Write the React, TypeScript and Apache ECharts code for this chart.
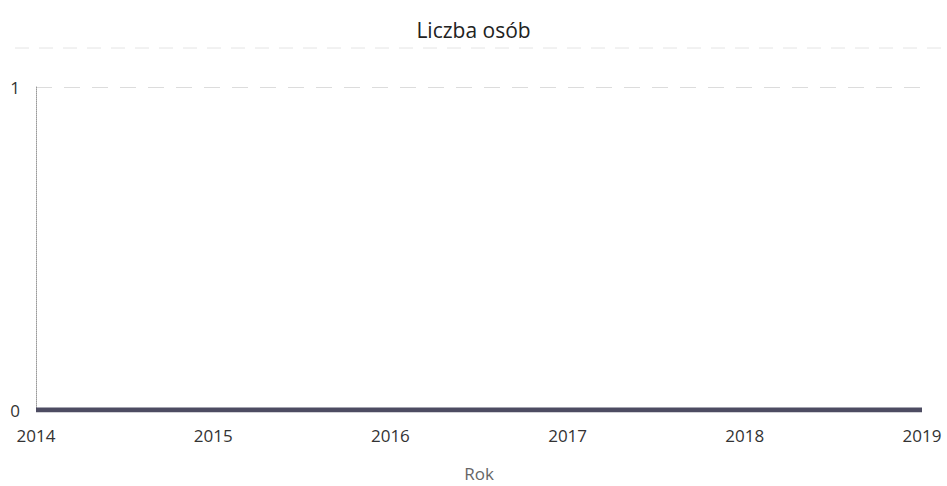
import React, { useEffect, useRef } from "react";
import * as echarts from "echarts";

const years = ["2014", "2015", "2016", "2017", "2018", "2019"];
const personCounts = [0, 0, 0, 0, 0, 0];
const titleText = "Liczba osób";
const xAxisName = "Rok";

export default function App() {
  const ref = useRef<HTMLDivElement>(null);
  useEffect(() => {
    if (!ref.current) return;
    const chart = echarts.init(ref.current, undefined, { renderer: "svg" });
    chart.setOption({
      animation: false,
      backgroundColor: "#ffffff",
      textStyle: { fontFamily: "Open Sans" },
      title: {
        text: titleText,
        left: "center",
        top: 14,
        textStyle: { fontFamily: "Open Sans", fontSize: 21, fontWeight: "normal", color: "#222" },
      },
      graphic: [
        {
          type: "line",
          shape: { x1: 15, y1: 48, x2: 945, y2: 48 },
          style: { stroke: "#e4e4e4", lineWidth: 1, lineDash: [14, 10] },
          silent: true,
        },
      ],
      grid: {
        left: 36,
        right: 25,
        top: 87,
        bottom: 76,
        containLabel: false,
        outerBoundsMode: "none",
      },
      xAxis: {
        type: "category",
        data: years,
        boundaryGap: false,
        name: xAxisName,
        nameLocation: "middle",
        nameGap: 55,
        nameTextStyle: { fontFamily: "Open Sans", fontSize: 17, color: "#666" },
        axisLine: { show: false },
        axisTick: { show: false },
        axisLabel: { fontFamily: "Open Sans", fontSize: 17, color: "#333", margin: 17 },
        splitLine: { show: false },
      },
      yAxis: {
        type: "value",
        min: 0,
        max: 1,
        interval: 1,
        axisLine: { show: true, lineStyle: { color: "#999", width: 1, type: "dotted" } },
        axisTick: { show: false },
        axisLabel: { fontFamily: "Open Sans", fontSize: 17, color: "#333", margin: 16 },
        splitLine: { show: true, lineStyle: { color: "#dcdcdc", type: [16, 12], width: 1 } },
      },
      series: [
        {
          type: "line",
          data: personCounts,
          showSymbol: false,
          symbol: "none",
          lineStyle: { color: "#4d4c62", width: 5 },
          itemStyle: { color: "#4d4c62" },
        },
      ],
    });
    return () => chart.dispose();
  }, []);
  return (
    <div
      ref={ref}
      style={{ position: "absolute", left: 0, top: 0, width: 947, height: 486 }}
    />
  );
}
